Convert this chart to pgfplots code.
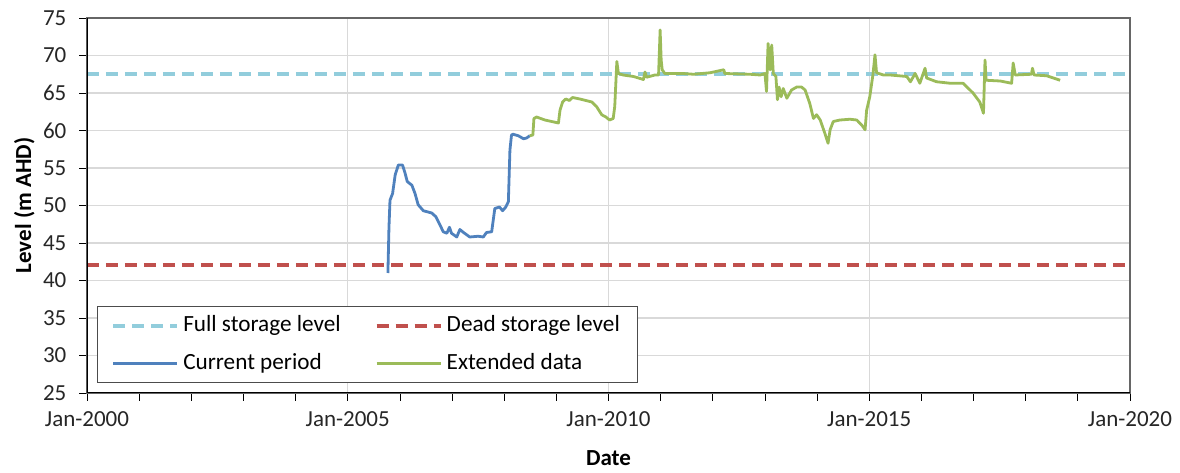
\documentclass[border=0pt]{standalone}
\usepackage{pgfplots}
\pgfplotsset{compat=1.18}
\usepackage{fontspec}
\setmainfont{Carlito}
\definecolor{fslblue}{RGB}{146,205,220}
\definecolor{dslred}{RGB}{192,80,77}
\definecolor{curblue}{RGB}{79,129,189}
\definecolor{extgreen}{RGB}{155,187,89}
\definecolor{gridgray}{RGB}{217,217,217}
\begin{document}
\begin{tikzpicture}
\path (-43.5pt,-38pt) rectangle (546.5pt,196.5pt);
\begin{axis}[
  scale only axis,
  width=521.5pt, height=187.5pt,
  xmin=2000, xmax=2020, ymin=25, ymax=75,
  xtick={2000,2005,2010,2015,2020},
  xticklabels={Jan-2000,Jan-2005,Jan-2010,Jan-2015,Jan-2020},
  minor xtick={2001,2002,2003,2004,2006,2007,2008,2009,2011,2012,2013,2014,2016,2017,2018,2019},
  ytick={25,30,...,75},
  xmajorgrids, ymajorgrids,
  major grid style={gridgray, line width=0.6pt},
  tick align=outside,
  major tick length=3.8pt, minor tick length=3.8pt,
  tick style={black, line width=0.6pt},
  every tick/.style={black},
  xtick pos=bottom, ytick pos=left,
  axis line style={draw=black!60, line width=0.7pt},
  /pgf/number format/assume math mode=true,
  tick label style={font=\fontsize{11.5}{13}\selectfont, text=black!85},
  xticklabel style={yshift=-2pt},
  yticklabel style={xshift=-3pt},
  xlabel={\textbf{Date}},
  ylabel={\textbf{Level (m AHD)}},
  label style={font=\fontsize{11.5}{13}\selectfont},
  xlabel style={at={(axis description cs:0.5,-0.173)}, anchor=center},
  ylabel style={at={(axis description cs:-0.06,0.5)}, anchor=center},
  legend columns=2,
  legend cell align=left,
  legend style={
    at={(0.0093,0.232)}, anchor=north west,
    draw=black!70, line width=0.6pt,
    font=\fontsize{11.6}{13}\selectfont,
    inner xsep=7pt, inner ysep=2pt,
    row sep=4pt,
    nodes={inner sep=2pt, text height=8.5pt, text depth=2.5pt},
    /tikz/every even column/.append style={column sep=15pt},
  },
  legend image code/.code={\draw[#1] (0pt,0pt) -- (32pt,0pt);},
]
\addplot[fslblue, line width=2pt, dash pattern=on 6pt off 3.5pt] coordinates {(2000,67.5) (2020,67.5)};
\addlegendentry{Full storage level}
\addplot[dslred, line width=2pt, dash pattern=on 6pt off 3.5pt] coordinates {(2000,42) (2020,42)};
\addlegendentry{Dead storage level}
\addplot[curblue, line width=1.4pt, line join=round] table {
x y
2005.77 41.0
2005.79 47.0
2005.81 50.7
2005.86 51.6
2005.91 54.1
2005.97 55.4
2006.05 55.4
2006.10 54.3
2006.14 53.2
2006.23 52.7
2006.29 51.6
2006.35 50.1
2006.45 49.3
2006.61 49.0
2006.69 48.5
2006.77 47.4
2006.83 46.5
2006.90 46.3
2006.95 47.1
2006.99 46.3
2007.09 45.8
2007.15 46.8
2007.22 46.4
2007.34 45.8
2007.50 45.9
2007.60 45.8
2007.66 46.4
2007.76 46.5
2007.82 49.6
2007.91 49.8
2007.97 49.3
2008.03 49.8
2008.08 50.5
2008.11 57.4
2008.14 59.4
2008.17 59.5
2008.27 59.3
2008.37 58.9
2008.43 59.0
2008.49 59.3
};
\addlegendentry{Current period}
\addplot[extgreen, line width=1.4pt, line join=round] table {
x y
2008.49 59.3
2008.55 59.4
2008.57 61.6
2008.62 61.8
2008.78 61.4
2008.91 61.2
2009.04 61.0
2009.07 62.7
2009.12 63.8
2009.18 64.2
2009.25 64.0
2009.31 64.4
2009.45 64.2
2009.68 63.8
2009.77 63.2
2009.87 62.1
2009.95 61.8
2010.02 61.4
2010.09 61.6
2010.12 63.2
2010.16 69.2
2010.19 67.6
2010.28 67.4
2010.48 67.2
2010.67 66.8
2010.70 67.8
2010.73 67.1
2010.89 67.4
2010.96 67.4
2010.99 73.4
2011.01 69.4
2011.03 68.1
2011.08 67.6
2011.21 67.6
2011.43 67.6
2011.63 67.5
2011.95 67.7
2012.21 68.1
2012.23 67.6
2012.71 67.5
2012.91 67.4
2013.00 67.6
2013.03 65.2
2013.06 71.6
2013.10 68.1
2013.13 71.4
2013.16 67.6
2013.21 67.2
2013.24 64.1
2013.27 65.8
2013.31 64.5
2013.35 65.6
2013.42 64.3
2013.51 65.4
2013.61 65.8
2013.70 65.8
2013.77 65.4
2013.86 63.6
2013.93 61.6
2013.99 62.1
2014.06 61.4
2014.15 59.6
2014.21 58.3
2014.25 60.1
2014.31 61.2
2014.44 61.4
2014.63 61.5
2014.76 61.4
2014.86 60.7
2014.92 60.1
2014.95 62.7
2015.01 64.5
2015.07 67.4
2015.11 70.1
2015.14 67.7
2015.27 67.4
2015.40 67.4
2015.72 67.2
2015.79 66.5
2015.88 67.6
2015.97 66.3
2016.07 68.3
2016.10 67.0
2016.29 66.5
2016.55 66.3
2016.80 66.3
2016.99 65.0
2017.12 63.8
2017.19 62.3
2017.22 69.4
2017.24 66.7
2017.51 66.6
2017.73 66.3
2017.76 69.0
2017.80 67.4
2018.11 67.5
2018.13 68.3
2018.16 67.4
2018.40 67.3
2018.66 66.7
};
\addlegendentry{Extended data}
\draw[black, line width=0.7pt] (rel axis cs:0,1) -- (rel axis cs:0,0) -- (rel axis cs:1,0);
\end{axis}
\end{tikzpicture}
\end{document}
